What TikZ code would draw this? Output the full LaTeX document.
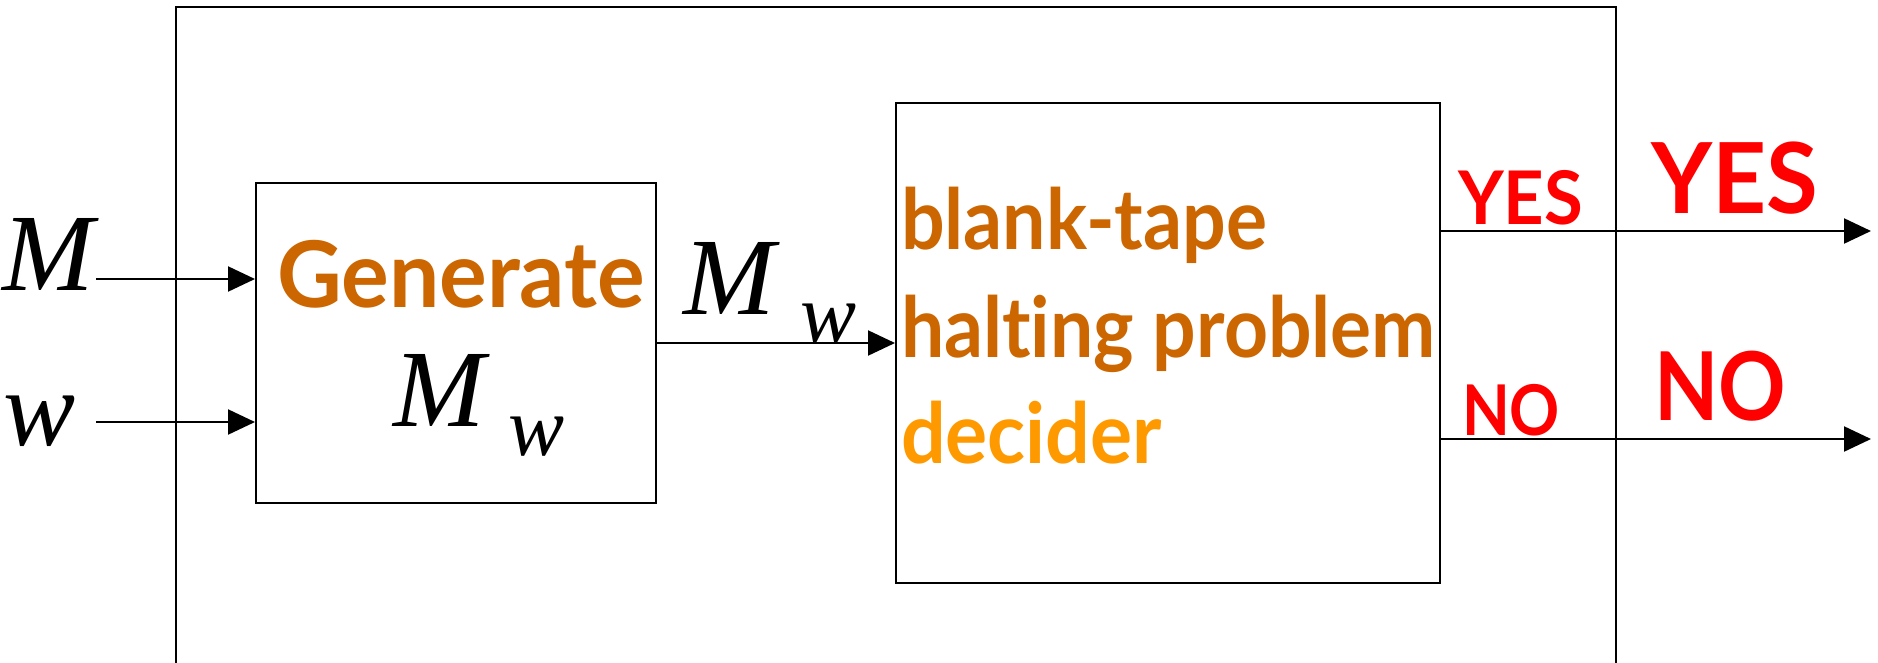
\documentclass[tikz,border=0pt]{standalone}
\usepackage{fontspec}
\usepackage{graphicx}
\usetikzlibrary{arrows.meta}
\newfontfamily\comicfont[Ligatures={NoCommon},BoldFont={Lato Bold}]{Lato}
\newfontfamily\tmsfont{Liberation Serif}
\definecolor{brownish}{HTML}{CC6600}
\definecolor{orangish}{HTML}{FF9900}
\definecolor{redish}{HTML}{FF0000}
\newcommand{\fitw}[3]{\resizebox{#1pt}{\height}{\comicfont\bfseries\fontsize{#2}{#2}\selectfont #3}}
\newcommand{\mvar}[2]{{\tmsfont\itshape\fontsize{#1}{#1}\selectfont #2}}
\begin{document}
\begin{tikzpicture}[x=1pt,y=-1pt,
  box/.style={draw=black,line width=2pt,inner sep=0pt},
  arr/.style={line width=2.2pt,-{Triangle[length=27pt,width=25pt]}},
  txt/.style={anchor=base west,inner sep=0pt,outer sep=0pt}]
\useasboundingbox (0,0) rectangle (1878,662);
\fill[white] (0,0) rectangle (1878,662);
% outer frame
\draw[line width=2pt] (176,670) -- (176,7) -- (1616,7) -- (1616,670);
% boxes
\node[box,minimum width=400pt,minimum height=320pt] (gen) at (456,343) {};
\node[box,minimum width=544pt,minimum height=480pt] (dec) at (1168,343) {};
% inputs
\coordinate (min) at (96,279);
\coordinate (win) at (96,422);
\draw[arr] (min) -- (min -| gen.west);
\draw[arr] (win) -- (win -| gen.west);
\draw[arr] (gen.east) -- (dec.west);
\coordinate (yesstart) at (1440,231);
\coordinate (nostart) at (1440,439);
\coordinate (yesend) at (1871,231);
\coordinate (noend) at (1871,439);
\draw[arr] (yesstart) -- (yesend);
\draw[arr] (nostart) -- (noend);
% math labels
\node[txt] (lM) at (2,290) {\mvar{110}{M}};
\node[txt] (lw) at (3,445) {\mvar{108}{w}};
\node[txt] (iM) at (393,426) {\mvar{110}{M}};
\node[txt] (iw) at (508,455) {\mvar{84}{w}};
\node[txt] (aM) at (683,314) {\mvar{110}{M}};
\node[txt] (aw) at (800,342) {\mvar{84}{w}};
% texts
\node[txt,text=brownish] (gt) at (277,307) {\fitw{368}{92}{Generate}};
\node[txt,text=brownish] (t1) at (901,249) {\fitw{366}{84}{blank-tape}};
\node[txt,text=brownish] (t2) at (901,357) {\fitw{535}{84}{halting problem}};
\node[txt,text=orangish] (t3) at (901,463) {\fitw{261}{84}{decider}};
\node[txt,text=redish] (ys) at (1458,224) {\fitw{125}{74}{YES}};
\node[txt,text=redish] (ns) at (1462,435) {\fitw{98}{70}{NO}};
\node[txt,text=redish] (yb) at (1651,213) {\fitw{167}{98}{YES}};
\node[txt,text=redish] (nb) at (1654,420) {\fitw{132}{95}{NO}};
\end{tikzpicture}
\end{document}
